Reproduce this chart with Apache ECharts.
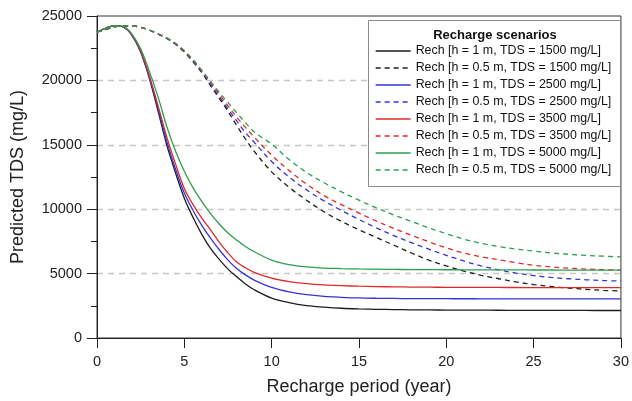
<!DOCTYPE html>
<html>
<head>
<meta charset="utf-8">
<script src="https://cdn.jsdelivr.net/npm/echarts@6/dist/echarts.min.js"></script>
<style>html,body{margin:0;padding:0;background:#fff}#c{width:632px;height:401px}</style>
</head>
<body>
<div id="c"></div>
<script>
// Time (years)
const years = [0,0.5,1,1.5,2,2.5,3,3.5,4,4.5,5,5.5,6,6.5,7,7.5,8,8.5,9,10,11,12,13,14,15,16,17,18,19,20,21,22,23,24,25,26,27,28,29,30];

// h = 1 m scenarios
const h1_1500 = [23740,24050,24250,24150,23500,22200,20150,17600,14950,12800,10850,9350,8050,6950,6100,5350,4750,4200,3750,3100,2750,2520,2400,2310,2260,2230,2210,2190,2180,2170,2165,2160,2155,2150,2145,2142,2140,2138,2136,2135];
const h1_2500 = [23740,24050,24250,24150,23520,22250,20250,17800,15250,13100,11250,9900,8750,7750,6850,6050,5400,4900,4500,3930,3580,3360,3230,3160,3110,3085,3070,3060,3055,3050,3048,3045,3043,3040,3038,3036,3034,3032,3031,3030];
const h1_3500 = [23740,24050,24250,24160,23550,22300,20350,18000,15600,13500,11600,10350,9300,8400,7450,6600,5900,5450,5100,4650,4380,4220,4120,4060,4020,3990,3970,3955,3945,3938,3932,3927,3923,3920,3917,3915,3913,3912,3911,3910];
const h1_5000 = [23740,24050,24250,24180,23600,22450,20700,18700,16400,14500,12950,11650,10600,9650,8850,8150,7600,7100,6700,6050,5700,5520,5430,5390,5360,5340,5325,5315,5305,5300,5295,5290,5287,5284,5281,5278,5276,5274,5272,5270];

// h = 0.5 m scenarios
const h05_1500 = [23740,23950,24150,24230,24230,24120,23900,23600,23250,22800,22200,21450,20600,19600,18600,17600,16500,15450,14500,12900,11700,10700,9800,9050,8400,7800,7200,6600,6050,5600,5200,4870,4600,4350,4150,4000,3880,3780,3700,3650];
const h05_2500 = [23740,23950,24150,24230,24230,24120,23900,23600,23260,22820,22230,21500,20650,19700,18750,17800,16850,15950,15200,13700,12500,11500,10650,9900,9200,8550,7950,7400,6900,6420,5980,5600,5290,5040,4850,4700,4600,4520,4460,4420];
const h05_3500 = [23740,23950,24150,24230,24230,24120,23900,23610,23270,22840,22260,21550,20720,19820,18920,18020,17150,16350,15600,14200,13000,11950,11050,10350,9700,9080,8500,7980,7470,7000,6600,6300,6080,5850,5650,5520,5420,5350,5300,5270];
const h05_5000 = [23740,23950,24150,24230,24240,24130,23920,23630,23300,22880,22320,21620,20800,19930,19080,18280,17480,16720,16000,15050,13850,12850,12050,11350,10700,10100,9550,9050,8550,8100,7680,7350,7100,6900,6750,6600,6500,6420,6350,6300];

const seriesNames = [
  'Rech [h = 1 m, TDS = 1500 mg/L]',
  'Rech [h = 0.5 m, TDS = 1500 mg/L]',
  'Rech [h = 1 m, TDS = 2500 mg/L]',
  'Rech [h = 0.5 m, TDS = 2500 mg/L]',
  'Rech [h = 1 m, TDS = 3500 mg/L]',
  'Rech [h = 0.5 m, TDS = 3500 mg/L]',
  'Rech [h = 1 m, TDS = 5000 mg/L]',
  'Rech [h = 0.5 m, TDS = 5000 mg/L]'
];
const seriesValues = [h1_1500, h05_1500, h1_2500, h05_2500, h1_3500, h05_3500, h1_5000, h05_5000];
const colors = ['#1e1e1e','#1e1e1e','#3434d8','#3434d8','#e02a2a','#e02a2a','#2e9d50','#2e9d50'];

const xTicks = [0,5,10,15,20,25,30];
const yTicks = [0,5000,10000,15000,20000,25000];
const legendTitle = 'Recharge scenarios';

const font = '"Liberation Sans", Arial, sans-serif';

const series = seriesNames.map((name, i) => ({
  name: name,
  type: 'line',
  data: years.map((t, k) => [t, seriesValues[i][k]]),
  smooth: 0.35,
  symbol: 'none',
  showSymbol: false,
  color: colors[i],
  lineStyle: { width: 1.3, color: colors[i], type: (i % 2 === 1) ? [5, 4] : 'solid' },
  z: 3,
  animation: false
}));

const chart = echarts.init(document.getElementById('c'), null, { renderer: 'canvas' });
chart.setOption({
  animation: false,
  backgroundColor: '#fff',
  grid: { left: 97, right: 10, top: 16, bottom: 61, show: true, borderColor: '#333', borderWidth: 1, backgroundColor: 'transparent' },
  xAxis: {
    type: 'value', min: xTicks[0], max: xTicks[xTicks.length - 1], interval: 5,
    name: 'Recharge period (year)', nameLocation: 'middle', nameGap: 40,
    nameTextStyle: { fontFamily: font, fontSize: 18, color: '#222' },
    axisLine: { show: true, lineStyle: { color: '#222', width: 1 } },
    axisTick: { show: true, length: 10, inside: false, lineStyle: { color: '#222' } },
    axisLabel: { fontFamily: font, fontSize: 14.5, color: '#222', margin: 16, formatter: v => String(v) },
    splitLine: { show: false }
  },
  yAxis: {
    type: 'value', min: yTicks[0], max: yTicks[yTicks.length - 1], interval: 5000,
    name: 'Predicted TDS (mg/L)', nameLocation: 'middle', nameGap: 70,
    nameTextStyle: { fontFamily: font, fontSize: 18, color: '#222' },
    axisLine: { show: true, lineStyle: { color: '#222', width: 1 } },
    axisTick: { show: true, length: 10, inside: false, lineStyle: { color: '#222' } },
    minorTick: { show: true, splitNumber: 2, length: 6, lineStyle: { color: '#222' } },
    axisLabel: { fontFamily: font, fontSize: 14.5, color: '#222', margin: 15, formatter: v => String(v) },
    splitLine: { show: true, showMinLine: false, showMaxLine: false, lineStyle: { color: '#c8c8c8', width: 1.3, type: [6, 5] } }
  },
  legend: {
    orient: 'vertical', left: 375, top: 45, z: 30,
    itemWidth: 35, itemHeight: 12, itemGap: 5, padding: 0,
    itemStyle: { opacity: 0 },
    lineStyle: { width: 1.3 },
    textStyle: { fontFamily: font, fontSize: 12.4, color: '#111', lineHeight: 12 },
    data: seriesNames
  },
  graphic: [
    { type: 'rect', left: 368, top: 20, shape: { width: 252, height: 166 }, style: { fill: '#fff', stroke: '#8a8a8a', lineWidth: 1 }, z: 5 },
    { type: 'text', x: 495, y: 35, style: { text: legendTitle, font: 'bold 13px ' + font, fill: '#111', textAlign: 'center', textVerticalAlign: 'middle' }, z: 31 }
  ],
  series: series
});
</script>
</body>
</html>
